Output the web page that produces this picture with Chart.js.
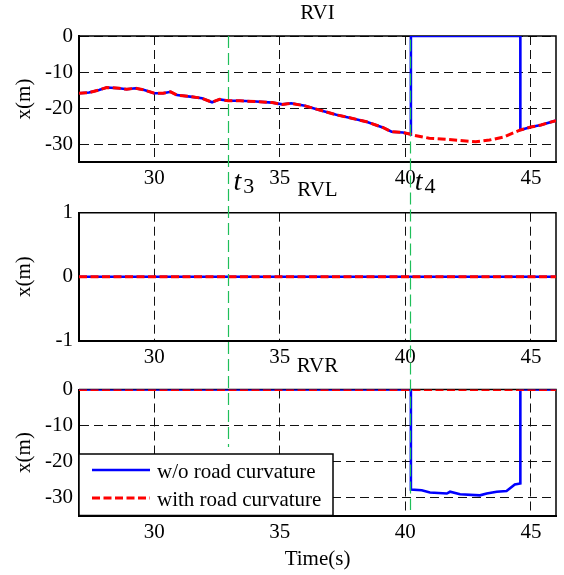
<!DOCTYPE html>
<html>
<head>
<meta charset="utf-8">
<script src="https://cdn.jsdelivr.net/npm/chart.js@4.4.0/dist/chart.umd.min.js"></script>
<style>
  html, body { margin: 0; padding: 0; background: #fff; }
  #wrap { position: relative; width: 564px; height: 575px; }
  #wrap canvas { position: absolute; left: 0; top: 0; }
</style>
</head>
<body>
<div id="wrap">
  <canvas id="rvi" width="564" height="575"></canvas>
  <canvas id="rvl" width="564" height="575"></canvas>
  <canvas id="rvr" width="564" height="575"></canvas>
</div>
<script>
// values
var timeTicks = [30, 35, 40, 45];
var distTicks = [0, -10, -20, -30];
var laneTicks = [1, 0, -1];

var rviTime = [27, 27.4, 27.8, 28.1, 28.6, 28.9, 29.25, 29.6, 30, 30.35, 30.65, 30.9, 31.5, 31.9, 32.3, 32.6, 32.95, 33.4, 34.05, 34.7, 35.1, 35.45, 36, 36.6, 37.25, 37.9, 38.45, 39.1, 39.45, 39.9, 40.22, 40.3, 40.95, 41.6, 42.3, 42.8, 43.35, 43.9, 44.3, 44.58, 45, 45.4, 46];
var rviWith = [-15.9, -15.7, -15.0, -14.3, -14.5, -14.8, -14.5, -15.0, -15.9, -15.9, -15.5, -16.4, -16.9, -17.3, -18.4, -17.6, -18.0, -18.0, -18.2, -18.5, -19.0, -18.7, -19.4, -20.6, -21.9, -22.9, -23.8, -25.4, -26.6, -26.8, -27.3, -27.5, -28.4, -28.7, -29.1, -29.4, -28.9, -28.1, -26.9, -26.1, -25.3, -24.7, -23.5];
var rviWithoutTime = [27, 27.4, 27.8, 28.1, 28.6, 28.9, 29.25, 29.6, 30, 30.35, 30.65, 30.9, 31.5, 31.9, 32.3, 32.6, 32.95, 33.4, 34.05, 34.7, 35.1, 35.45, 36, 36.6, 37.25, 37.9, 38.45, 39.1, 39.45, 39.9, 40.22, 40.22, 44.58, 44.58, 45, 45.4, 46];
var rviWithout = [-15.9, -15.7, -15.0, -14.3, -14.5, -14.8, -14.5, -15.0, -15.9, -15.9, -15.5, -16.4, -16.9, -17.3, -18.4, -17.6, -18.0, -18.0, -18.2, -18.5, -19.0, -18.7, -19.4, -20.6, -21.9, -22.9, -23.8, -25.4, -26.6, -26.8, -27.3, 0, 0, -26.1, -25.3, -24.7, -23.5];

var rvlTime = [27, 46];
var rvlWith = [0, 0];
var rvlWithout = [0, 0];

var rvrTime = [27, 46];
var rvrWith = [0, 0];
var rvrWithoutTime = [27, 40.22, 40.22, 40.65, 40.98, 41.65, 41.78, 42.18, 42.97, 43.24, 43.64, 44.03, 44.36, 44.58, 44.58, 46];
var rvrWithout = [0, 0, -27.8, -28.0, -28.6, -28.9, -28.4, -29.1, -29.4, -28.9, -28.4, -28.2, -26.4, -26.1, 0, 0];

// t3 / t4 markers (start in RVI units, end in RVR units)
var markerTimes = [32.95, 40.17];
var markerSubs = ['3', '4'];
var markerFrom = [0, -1];
var markerTo = [-16, -33.5];

var serif = "'Liberation Serif', 'Times New Roman', serif";
Chart.defaults.font.family = serif;
Chart.defaults.font.size = 21;
Chart.defaults.color = '#000';

function pts(xs, ys) {
  return xs.map(function (x, i) { return {x: x, y: ys[i]}; });
}

var framePlugin = {
  id: 'frame',
  beforeDatasetsDraw: function (chart) {
    var a = chart.chartArea, ctx = chart.ctx;
    ctx.save();
    ctx.strokeStyle = '#000';
    ctx.lineWidth = 1.5;
    ctx.beginPath();
    ctx.moveTo(a.left, a.top);
    ctx.lineTo(a.right, a.top);
    ctx.lineTo(a.right, a.bottom);
    ctx.stroke();
    ctx.restore();
  }
};

function makePanel(id, title, t1, w1, t2, w2, yMin, yMax, yTicks, top, bottom, xH, xTitle, plugins) {
  return new Chart(document.getElementById(id), {
    type: 'line',
    data: {
      datasets: [{
        label: 'w/o road curvature',
        data: pts(t2, w2),
        borderColor: '#0000ff',
        borderWidth: 2.6,
        order: 1
      }, {
        label: 'with road curvature',
        data: pts(t1, w1),
        borderColor: '#ff0000',
        borderWidth: 3,
        borderDash: [8, 3.5],
        order: 0
      }]
    },
    options: {
      responsive: false,
      animation: false,
      devicePixelRatio: 1,
      elements: { point: { radius: 0 }, line: { tension: 0 } },
      layout: { padding: { top: top - 35.2, bottom: 575 - bottom - xH, left: 0, right: 8 } },
      plugins: {
        legend: { display: false },
        tooltip: { enabled: false },
        title: { display: true, text: title, fullSize: false, font: { size: 21, weight: 'normal' }, padding: { top: 0, bottom: 10 } }
      },
      scales: {
        x: {
          type: 'linear', min: 27, max: 46,
          afterBuildTicks: function (s) { s.ticks = timeTicks.map(function (v) { return {value: v}; }); },
          afterFit: function (s) { s.height = xH; },
          grid: { color: '#111', lineWidth: 1, drawTicks: false },
          border: { display: true, color: '#000', width: 2, dash: [9, 5] },
          ticks: { padding: 4, autoSkip: false, maxRotation: 0 },
          title: { display: !!xTitle, text: xTitle || '', padding: { top: 0, bottom: 1.5 } }
        },
        y: {
          min: yMin, max: yMax,
          afterBuildTicks: function (s) { s.ticks = yTicks.map(function (v) { return {value: v}; }); },
          afterFit: function (s) { s.width = 79; },
          grid: { color: '#111', lineWidth: 1, drawTicks: false },
          border: { display: true, color: '#000', width: 2, dash: [9, 5] },
          ticks: { padding: 6, autoSkip: false },
          title: { display: true, text: 'x(m)', padding: { top: 12, bottom: 0 } }
        }
      }
    },
    plugins: [framePlugin].concat(plugins || [])
  });
}

var rviChart = makePanel('rvi', 'RVI', rviTime, rviWith, rviWithoutTime, rviWithout, -35, 0, distTicks, 36, 162, 30);
var rvlChart = makePanel('rvl', 'RVL', rvlTime, rvlWith, rvlTime, rvlWithout, -1, 1, laneTicks, 212.7, 340.7, 30);

var legendBox = {
  id: 'legendBox',
  afterDatasetsDraw: function (chart) {
    var a = chart.chartArea, ctx = chart.ctx;
    var x0 = a.left, y1 = a.bottom, w = 254, h = 61.5;
    ctx.save();
    ctx.fillStyle = '#fff';
    ctx.fillRect(x0, y1 - h, w, h);
    ctx.strokeStyle = '#000';
    ctx.lineWidth = 1.5;
    ctx.strokeRect(x0, y1 - h, w, h);
    chart.data.datasets.forEach(function (ds, i) {
      var y = y1 - 45.5 + i * 28;
      ctx.strokeStyle = ds.borderColor;
      ctx.lineWidth = ds.borderWidth;
      ctx.setLineDash(ds.borderDash || []);
      ctx.beginPath();
      ctx.moveTo(x0 + 13, y);
      ctx.lineTo(x0 + 71, y);
      ctx.stroke();
      ctx.setLineDash([]);
      ctx.fillStyle = '#000';
      ctx.font = '21px ' + serif;
      ctx.textBaseline = 'middle';
      ctx.textAlign = 'left';
      ctx.fillText(ds.label, x0 + 78, y + 2);
    });
    ctx.restore();
  }
};

var markers = {
  id: 'markers',
  afterDraw: function (chart) {
    var ctx = chart.ctx, xs = chart.scales.x;
    var yTop = rviChart.scales.y, yBot = chart.scales.y;
    ctx.save();
    ctx.strokeStyle = '#1fbf5a';
    ctx.lineWidth = 1.2;
    ctx.setLineDash([12, 5]);
    markerTimes.forEach(function (t, i) {
      var px = Math.round(xs.getPixelForValue(t)) + 0.5;
      ctx.beginPath();
      ctx.moveTo(px, yTop.getPixelForValue(markerFrom[i]));
      ctx.lineTo(px, yBot.getPixelForValue(markerTo[i]));
      ctx.stroke();
    });
    ctx.setLineDash([]);
    var base = rviChart.chartArea.bottom;
    ctx.fillStyle = '#000';
    ctx.textAlign = 'left';
    ctx.textBaseline = 'alphabetic';
    markerTimes.forEach(function (t, i) {
      var px = xs.getPixelForValue(t) + 5;
      ctx.font = 'italic 28px ' + serif;
      ctx.fillText('t', px, base + 28);
      var w = ctx.measureText('t').width;
      ctx.font = '22px ' + serif;
      ctx.fillText(markerSubs[i], px + w + 2, base + 31);
    });
    ctx.restore();
  }
};

var rvrChart = makePanel('rvr', 'RVR', rvrTime, rvrWith, rvrWithoutTime, rvrWithout, -35, 0, distTicks, 389.5, 515.5, 58, 'Time(s)', [legendBox, markers]);
</script>
</body>
</html>
